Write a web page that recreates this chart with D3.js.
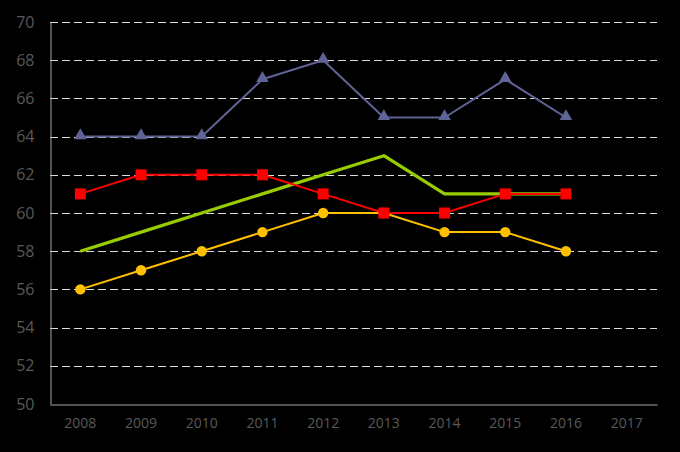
<!DOCTYPE html>
<html><head><meta charset="utf-8">
<script src="https://cdn.jsdelivr.net/npm/d3@7"></script>
<style>html,body{margin:0;padding:0;background:#000;}svg{display:block;}</style>
</head><body>
<script>
const categories = ["2008","2009","2010","2011","2012","2013","2014","2015","2016","2017"];
const blueValues = [64,64,64,67,68,65,65,67,65];
const redValues = [61,62,62,62,61,60,60,61,61];
const greenValues = [58,59,60,61,62,63,61,61,61];
const yellowValues = [56,57,58,59,60,60,59,59,58];
const yTicks = [50,52,54,56,58,60,62,64,66,68,70];

const W = 680, H = 452;
const m = {left: 50, right: 23, top: 22, bottom: 48};
const svg = d3.select("body").append("svg").attr("width", W).attr("height", H);
svg.append("rect").attr("width", W).attr("height", H).attr("fill", "#000");

const x = d3.scaleBand().domain(categories).range([m.left, W - m.right]);
const y = d3.scaleLinear().domain([50, 70]).range([H - m.bottom, m.top]);
const cx = c => x(c) + x.bandwidth() / 2;

// gridlines
svg.append("g").selectAll("line").data(yTicks.filter(t => t > 50)).join("line")
  .attr("x1", m.left).attr("x2", W - m.right)
  .attr("y1", d => Math.round(y(d)) + 0.5).attr("y2", d => Math.round(y(d)) + 0.5)
  .attr("stroke", "#d9d9d9").attr("stroke-width", 1).attr("stroke-dasharray", "8,4");

// axes
const yAxis = svg.append("g").attr("transform", `translate(${m.left + 0.5},0)`)
  .call(d3.axisLeft(y).tickValues(yTicks).tickSize(0).tickPadding(16));
yAxis.select(".domain").attr("stroke", "#a6a6a6");
yAxis.selectAll("text").attr("fill", "#595959").style("font-family", "Open Sans, sans-serif").style("font-size", "16px");

const xAxis = svg.append("g").attr("transform", `translate(0,${Math.round(y(50)) + 0.5})`)
  .call(d3.axisBottom(x).tickSize(0).tickPadding(14));
xAxis.select(".domain").attr("stroke", "#a6a6a6");
xAxis.selectAll("text").attr("fill", "#595959").style("font-family", "Open Sans, sans-serif").style("font-size", "14px");

const line = d3.line().x((d, i) => cx(categories[i])).y(d => y(d));

function series(vals, color, width) {
  svg.append("path").datum(vals).attr("d", line).attr("fill", "none")
    .attr("stroke", color).attr("stroke-width", width).attr("stroke-linejoin", "round");
}
series(yellowValues, "#ffc000", 2);
series(greenValues, "#99cc00", 3.2);
series(redValues, "#ff0000", 2);
series(blueValues, "#5f6396", 2);

// markers
svg.append("g").selectAll("circle").data(yellowValues).join("circle")
  .attr("cx", (d, i) => cx(categories[i])).attr("cy", d => y(d)).attr("r", 5.2).attr("fill", "#ffc000");
svg.append("g").selectAll("rect").data(redValues).join("rect")
  .attr("x", (d, i) => cx(categories[i]) - 5.5).attr("y", d => y(d) - 5.5)
  .attr("width", 11).attr("height", 11).attr("fill", "#ff0000");
const tri = d3.symbol().type(d3.symbolTriangle).size(68);
svg.append("g").selectAll("path").data(blueValues).join("path")
  .attr("d", tri).attr("transform", (d, i) => `translate(${cx(categories[i])},${y(d) - 1})`)
  .attr("fill", "#5f6396");
</script>
</body></html>
